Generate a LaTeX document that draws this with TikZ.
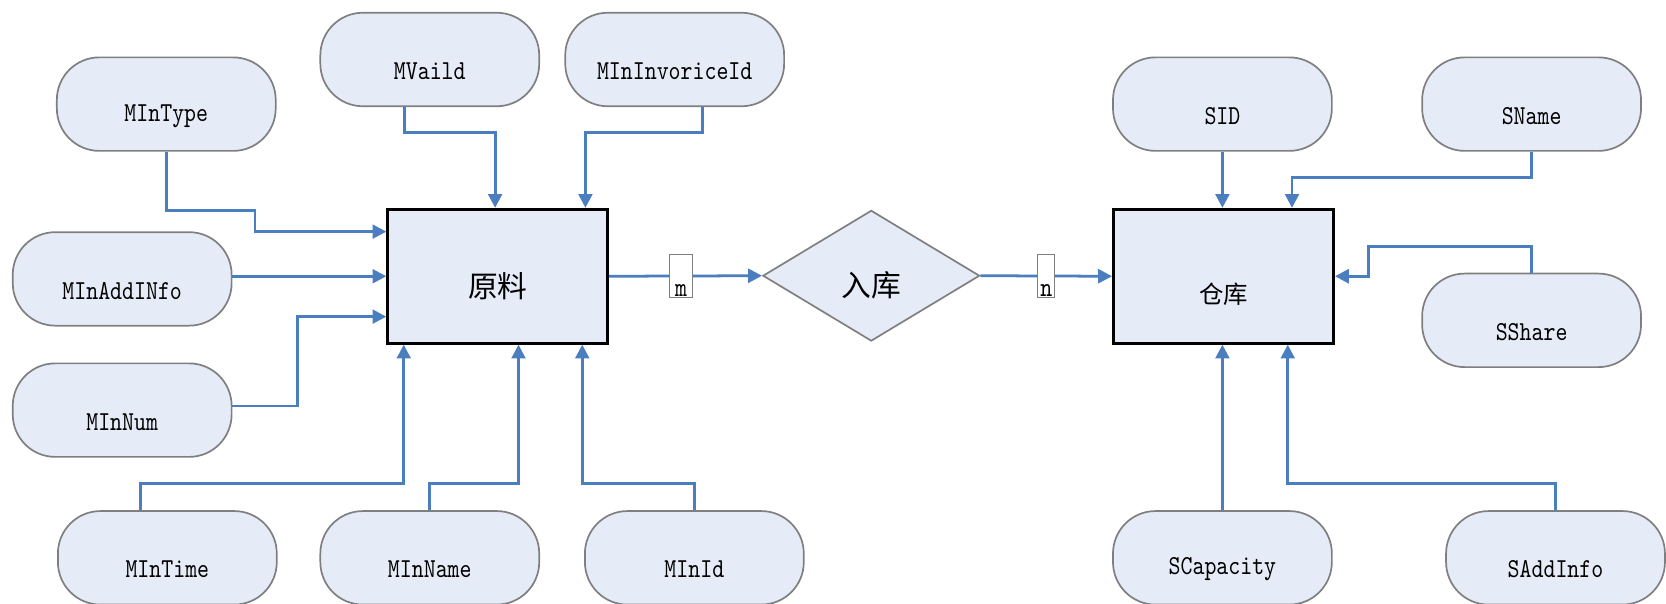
\documentclass[tikz,border=0pt]{standalone}
\usepackage{fontspec}
\newfontfamily\cjk{Noto Sans CJK SC}
\newfontfamily\attrfont[FakeStretch=0.83]{lmmono10-regular.otf}
\usetikzlibrary{shapes.geometric,arrows.meta,calc}
\definecolor{fillc}{HTML}{E6ECF7}
\definecolor{linec}{HTML}{4A7EBF}
\definecolor{bordc}{HTML}{7F7F7F}
\begin{document}
\begin{tikzpicture}[x=0.5pt,y=-0.5pt,
  attr/.style={draw=bordc, line width=0.8pt, fill=fillc, rounded corners=20pt,
    minimum width=103pt, minimum height=44pt, inner sep=0pt},
  atxt/.style={font=\attrfont\fontsize{12.9}{13}\selectfont, yshift=-5.5pt},
  ctxt/.style={font=\cjk\fontsize{14}{14}\selectfont, yshift=-4.5pt},
  ent/.style={draw=black, line width=1.4pt, fill=fillc, minimum width=103.5pt,
    minimum height=63pt, inner sep=0pt},
  rel/.style={diamond, draw=bordc, line width=0.8pt, fill=fillc,
    minimum width=102pt, minimum height=61.5pt, inner sep=0pt},
  conn/.style={draw=linec, line width=1.3pt, -{Triangle[length=6.5pt,width=6.5pt]}},
  card/.style={draw=bordc, line width=0.4pt, fill=white, minimum height=20.5pt, inner sep=0pt}]
\useasboundingbox (0,0) rectangle (1568,568);

% entities and relationship
\node[ent, label={[ctxt]center:原料}] (yl) at (468.5,260) {};
\node[ent, label={[ctxt, font=\cjk\fontsize{11.5}{12}\selectfont, yshift=-4pt]center:仓库}] (ck) at (1151.5,260) {};
\node[rel, label={[ctxt]center:入库}] (rk) at (820,259.5) {};

% attributes of 原料
\node[attr, label={[atxt]center:MInType}] (mintype) at (156.5,98) {};
\node[attr, label={[atxt]center:MVaild}] (mvaild) at (404.5,56) {};
\node[attr, label={[atxt]center:MInInvoriceId}] (mininv) at (635,56) {};
\node[attr, label={[atxt]center:MInAddINfo}] (minadd) at (115,262.5) {};
\node[attr, label={[atxt]center:MInNum}] (minnum) at (115,386) {};
\node[attr, label={[atxt]center:MInTime}] (mintime) at (157.5,525) {};
\node[attr, label={[atxt]center:MInName}] (minname) at (404.5,525) {};
\node[attr, label={[atxt]center:MInId}] (minid) at (653.5,525) {};

% attributes of 仓库
\node[attr, label={[atxt]center:SID}] (sid) at (1150.5,98) {};
\node[attr, label={[atxt]center:SName}] (sname) at (1441.5,98) {};
\node[attr, label={[atxt]center:SShare}] (sshare) at (1441.5,301.5) {};
\node[attr, label={[atxt]center:SCapacity}] (scap) at (1150.5,525) {};
\node[attr, label={[atxt]center:SAddInfo}] (sadd) at (1464,525) {};

% connectors to 原料
\draw[conn] (mintype.south) |- (240,198) |- (yl.west |- 0,218);
\draw[conn] (mvaild.south -| 381,0) |- (466,125) -- (yl.north -| 466,0);
\draw[conn] (mininv.south -| 661,0) |- (551,125) -- (yl.north -| 551,0);
\draw[conn] (minadd.east |- yl.west) -- (yl.west);
\draw[conn] (minnum.east |- 0,382) -| (280,298) -- (yl.west |- 0,298);
\draw[conn] (mintime.north -| 132,0) |- (380,455) -- (yl.south -| 380,0);
\draw[conn] (minname.north) |- (488,455) -- (yl.south -| 488,0);
\draw[conn] (minid.north) |- (548,455) -- (yl.south -| 548,0);

% relationship connectors
\draw[conn] (yl.east) -- node[card, pos=0.47, minimum width=11pt,
  label={[atxt, yshift=-1.5pt]center:m}] (cm) {} (rk.west);
\draw[conn] (rk.east) -- node[card, pos=0.5, minimum width=8pt,
  label={[atxt, yshift=-1.5pt]center:n}] (cn) {} (ck.west);

% connectors to 仓库
\draw[conn] (sid.south) -- (ck.north -| sid.south);
\draw[conn] (sname.south) |- (1216,167) -- (ck.north -| 1216,0);
\draw[conn] (sshare.north) |- (1288,232) |- (ck.east);
\draw[conn] (scap.north) -- (ck.south -| scap.north);
\draw[conn] (sadd.north) |- (1212,455) -- (ck.south -| 1212,0);
\end{tikzpicture}
\end{document}
